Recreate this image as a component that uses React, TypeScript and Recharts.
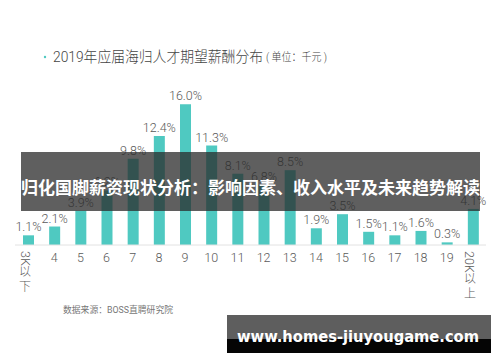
import { BarChart, Bar, XAxis, YAxis, LabelList } from "recharts";

// 期望薪酬区间（千元）与占比（%）
const categories = [
  "3K以下", "4", "5", "6", "7", "8", "9", "10", "11", "12",
  "13", "14", "15", "16", "17", "18", "19", "20K以上",
];
const shares = [
  1.1, 2.1, 3.9, 6.2, 9.8, 12.4, 16.0, 11.3, 8.1, 6.8,
  8.5, 1.9, 3.5, 1.5, 1.1, 1.6, 0.3, 4.1,
];

const TITLE = "2019年应届海归人才期望薪酬分布";
const UNIT = "( 单位：千元 )";
const SOURCE = "数据来源：BOSS直聘研究院";
const BANNER = "归化国脚薪资现状分析：影响因素、收入水平及未来趋势解读";
const SITE = "www.homes-jiuyougame.com";

const TEAL = "#4fc9c1";
const GREY = "#5a5a5a";
const FONT = "Roboto, 'Noto Sans CJK SC', sans-serif";

const data = categories.map((name, i) => ({ name, value: shares[i] }));

interface TickProps {
  x?: number;
  y?: number;
  payload?: { value: string };
}

/** Numbers sit flat; the two end labels are stacked vertically (Latin part turned sideways). */
function SalaryTick({ x = 0, y = 0, payload }: TickProps) {
  const label = String(payload?.value ?? "");
  if (label.length <= 2) {
    return (
      <text x={x} y={y} dy={9} textAnchor="middle" fill={GREY} fontSize={12.5} fontWeight={300} fontFamily={FONT}>
        {label}
      </text>
    );
  }
  const latin = label.replace(/[^\x00-\x7f]/g, "");
  const cjk = label.replace(/[\x00-\x7f]/g, "").split("");
  const start = y - 2;
  const latinLen = latin.length * 7;
  return (
    <g fill={GREY} fontFamily={FONT} fontWeight={300}>
      <text
        transform={`translate(${x - 3},${start}) rotate(90)`}
        textAnchor="start"
        dominantBaseline="central"
        fontSize={12.5}
      >
        {latin}
      </text>
      {cjk.map((ch, i) => (
        <text
          key={i}
          x={x - 3}
          y={start + latinLen + 7 + i * 15}
          textAnchor="middle"
          dominantBaseline="central"
          fontSize={12}
        >
          {ch}
        </text>
      ))}
    </g>
  );
}

export default function App() {
  return (
    <div style={{ position: "absolute", left: 0, top: 0, width: 500, height: 362, background: "#fff" }}>
      <BarChart
        width={500}
        height={362}
        data={data}
        margin={{ top: 69, right: 14, left: 15, bottom: 57 }}
      >
        <XAxis
          dataKey="name"
          interval={0}
          height={60}
          tickLine={false}
          axisLine={{ stroke: "#e2e2e2" }}
          tick={<SalaryTick />}
        />
        <YAxis hide domain={[0, 20]} />
        <Bar dataKey="value" fill={TEAL} barSize={11} isAnimationActive={false}>
          <LabelList
            dataKey="value"
            position="top"
            offset={4}
            fill={GREY}
            fontSize={12.5}
            fontWeight={300}
            fontFamily={FONT}
            formatter={(v: unknown) => `${Number(v).toFixed(1)}%`}
          />
        </Bar>
      </BarChart>

      {/* title, source and the overlays pasted over the original picture */}
      <svg
        width={500}
        height={362}
        style={{ position: "absolute", left: 0, top: 0, pointerEvents: "none" }}
      >
        <circle cx={45} cy={57} r={1.2} fill={TEAL} />
        <text x={53} y={61.5} fontSize={15} fontWeight={300} fill="#444" fontFamily={FONT} textLength={210} lengthAdjust="spacingAndGlyphs">
          {TITLE}
        </text>
        <text x={266} y={61} fontSize={11.5} fontWeight={300} fill="#444" fontFamily={FONT} textLength={61} lengthAdjust="spacingAndGlyphs">
          {UNIT}
        </text>
        <text x={63} y={313} fontSize={9} fill="#777" fontFamily={FONT} textLength={110} lengthAdjust="spacingAndGlyphs">
          {SOURCE}
        </text>

        <rect x={21} y={152} width={459} height={59} fill="rgba(42,42,42,0.75)" />
        <text
          x={21}
          y={186}
          dominantBaseline="central"
          fontSize={17}
          fontWeight={700}
          fill="#fff"
          fontFamily="'Noto Sans CJK SC', sans-serif"
          textLength={459}
          lengthAdjust="spacingAndGlyphs"
        >
          {BANNER}
        </text>

        <rect x={227} y={315} width={264} height={24} fill="#5e5e5e" />
        <rect x={227} y={339} width={264} height={14} fill="#050505" />
        <text
          x={237}
          y={336}
          dominantBaseline="central"
          fontSize={16}
          fontWeight={700}
          fill="#fff"
          fontFamily="'DejaVu Sans', sans-serif"
          textLength={242}
          lengthAdjust="spacingAndGlyphs"
        >
          {SITE}
        </text>
      </svg>
    </div>
  );
}
